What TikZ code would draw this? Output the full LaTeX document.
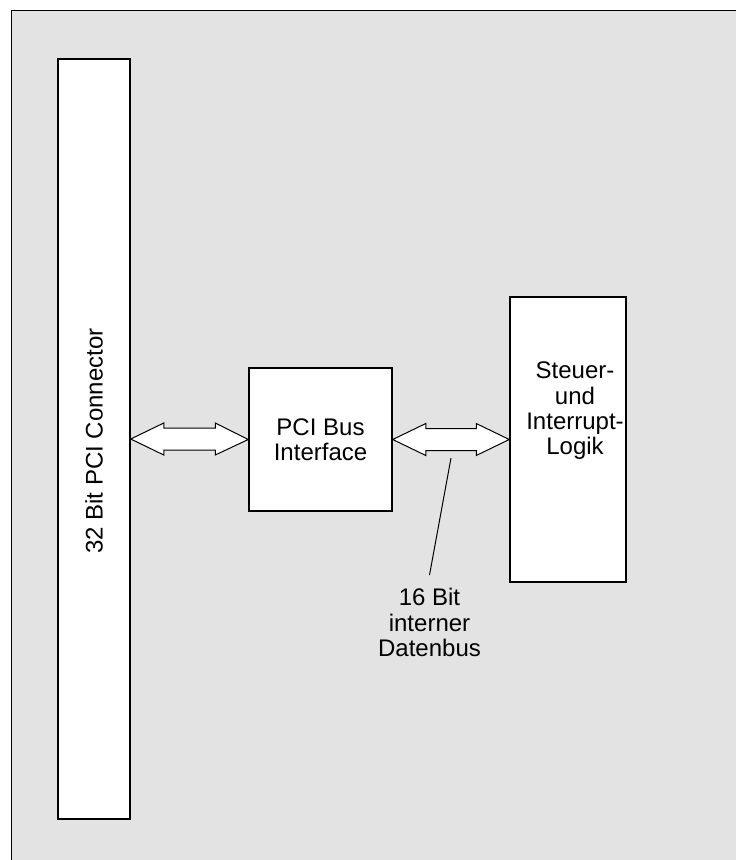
\documentclass[tikz,border=0pt]{standalone}
\usepackage{fontspec}
\setmainfont{Liberation Sans}
\usetikzlibrary{calc}
\definecolor{panelgray}{HTML}{E3E3E3}
\newcommand{\busarrow}[2]{   % from, to
	\draw[bus] let \p1 = (#1), \p2 = (#2) in
		(\x1, \y1) -- (\x1 + 16.5pt, \y1 + 8pt) -- (\x1 + 16.5pt, \y1 + 5.5pt)
		-- (\x2 - 16.5pt, \y1 + 5.5pt) -- (\x2 - 16.5pt, \y1 + 8pt) -- (\x2, \y2)
		-- (\x2 - 16.5pt, \y1 - 8pt) -- (\x2 - 16.5pt, \y1 - 5.5pt)
		-- (\x1 + 16.5pt, \y1 - 5.5pt) -- (\x1 + 16.5pt, \y1 - 8pt) -- cycle;
}

\begin{document}
\begin{tikzpicture}[x=0.5pt, y=-0.5pt,
	every node/.style={font=\fontsize{12}{12.75}\selectfont},
	block/.style={draw, line width=0.75pt, fill=white, inner sep=0pt},
	bus/.style={draw, line width=0.5pt, fill=white},
	txt/.style={align=center, inner sep=0pt}]

\useasboundingbox (0, 0) rectangle (736, 860);
\fill[panelgray] (11, 11) rectangle (736, 860);
\draw[line width=0.5pt] (11, 860) -- (11, 11) -- (736, 11);

% blocks
\node[block, minimum width=36pt, minimum height=380pt] (conn) at (94, 439) {};
\node[txt, rotate=90] (connlabel) at (94, 441) {32 Bit PCI Connector};

\node[block, minimum width=71.5pt, minimum height=71.5pt, txt] (iface) at (320.5, 439.5) {PCI Bus\\Interface};

\node[block, minimum width=58pt, minimum height=142.5pt] (logic) at (568, 439.5) {};
\node[txt, font=\fontsize{12}{12.65}\selectfont] (logiclabel) at (575, 411) {Steuer-\\und\\Interrupt-\\Logik};

% busses
\busarrow{conn.east}{iface.west};
\busarrow{iface.east}{logic.west};

% label of the internal bus
\coordinate (bustap) at (451, 458);
\node[txt, anchor=north, inner sep=6.5pt] (buslabel) at (429.5, 575) {16 Bit\\interner\\Datenbus};
\draw[line width=0.5pt] (bustap) -- (buslabel.north);

\end{tikzpicture}
\end{document}
